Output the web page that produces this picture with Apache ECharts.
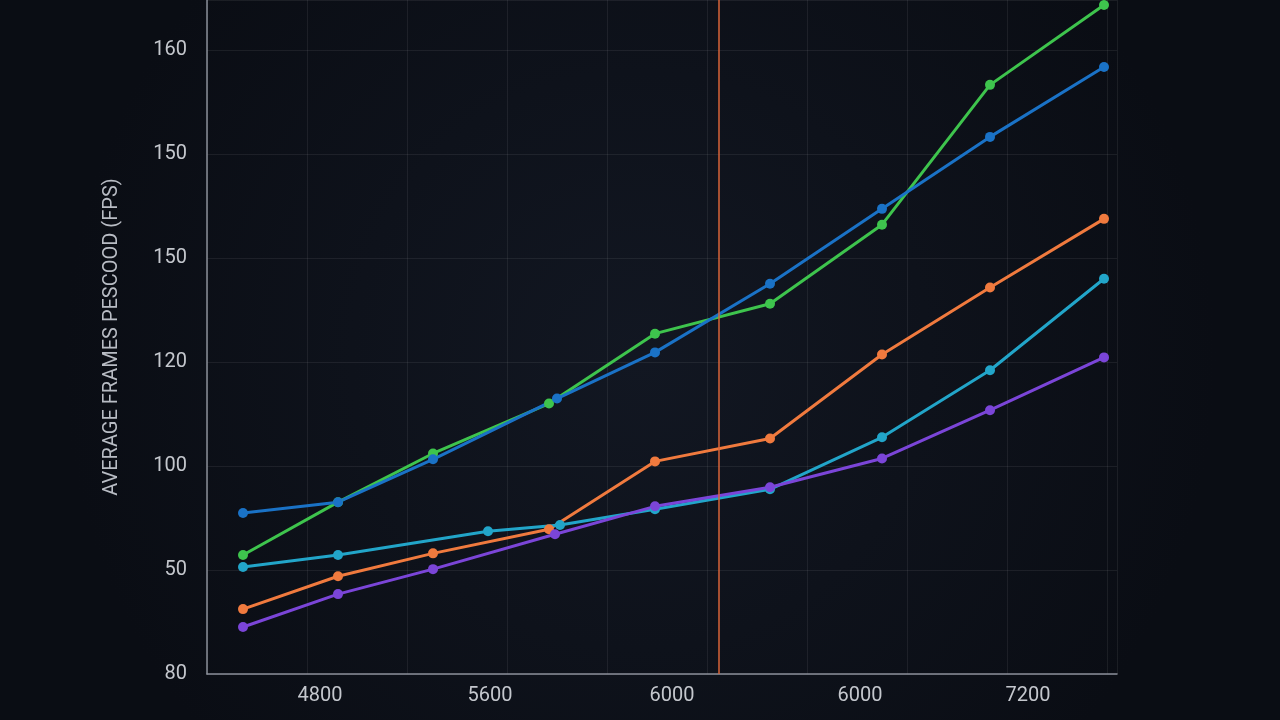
<!DOCTYPE html>
<html>
<head>
<meta charset="utf-8">
<script src="https://cdn.jsdelivr.net/npm/echarts@6/dist/echarts.min.js"></script>
<style>
  html, body { margin: 0; padding: 0; background: #0d111a; }
  #chart { width: 1280px; height: 720px; }
</style>
</head>
<body>
<div id="chart"></div>
<script>
// y tick labels, bottom to top (as printed on the chart)
const yTickLabels = ["80", "50", "100", "120", "150", "150", "160"];
// x tick labels and their positions on the x scale
const xTickLabels = ["4800", "5600", "6000", "6000", "7200"];
const xTickPos = [1.13, 2.83, 4.65, 6.53, 8.21];

const xGreen = [0.36, 1.31, 2.26, 3.42, 4.48, 5.63, 6.75, 7.83, 8.97];
const yGreen = [28.6, 41.3, 53.0, 65.0, 81.8, 89.0, 108.0, 141.6, 160.8];
const xBlue = [0.36, 1.31, 2.26, 3.5, 4.48, 5.63, 6.75, 7.83, 8.97];
const yBlue = [38.7, 41.3, 51.6, 66.2, 77.3, 93.8, 111.8, 129.1, 145.9];
const xOrange = [0.36, 1.31, 2.26, 3.42, 4.48, 5.63, 6.75, 7.83, 8.97];
const yOrange = [15.6, 23.5, 29.0, 34.8, 51.1, 56.6, 76.8, 92.9, 109.4];
const xCyan = [0.36, 1.31, 2.81, 3.53, 4.48, 5.63, 6.75, 7.83, 8.97];
const yCyan = [25.7, 28.6, 34.3, 35.8, 39.6, 44.4, 56.9, 73.0, 95.0];
const xPurple = [0.36, 1.31, 2.26, 3.48, 4.48, 5.63, 6.75, 7.83, 8.97];
const yPurple = [11.3, 19.2, 25.2, 33.6, 40.3, 44.9, 51.8, 63.4, 76.1];
const markerX = 5.12;

const zip = (xs, ys) => xs.map((x, i) => [x, ys[i]]);

const chart = echarts.init(document.getElementById("chart"));

const mkSeries = (name, xs, ys, color) => ({
  name: name,
  type: "line",
  data: zip(xs, ys),
  symbol: "circle",
  symbolSize: 10,
  lineStyle: { width: 3, color: color },
  itemStyle: { color: color },
  z: 3,
});

const series = [
  mkSeries("green", xGreen, yGreen, "#3ec44d"),
  mkSeries("blue", xBlue, yBlue, "#1a72c6"),
  mkSeries("orange", xOrange, yOrange, "#f07a3e"),
  mkSeries("cyan", xCyan, yCyan, "#22a5c9"),
  mkSeries("purple", xPurple, yPurple, "#7b45d8"),
];
series[0].markLine = {
  silent: true,
  symbol: "none",
  label: { show: false },
  lineStyle: { color: "#d8643a", width: 1.5, type: "solid" },
  data: [{ xAxis: markerX }],
};

chart.setOption({
  backgroundColor: {
    type: "radial", x: 0.5, y: 0.5, r: 0.8,
    colorStops: [{ offset: 0, color: "#121722" }, { offset: 1, color: "#0a0d14" }],
  },
  grid: { left: 207, right: 163, top: 0, bottom: 46 },
  xAxis: {
    type: "value",
    min: 0,
    max: 9.1,
    interval: 1,
    axisLine: { show: true, lineStyle: { color: "#8a8f99", width: 1.5 } },
    axisTick: { show: false },
    axisLabel: { show: false },
    splitLine: { show: true, lineStyle: { color: "rgba(255,255,255,0.07)" } },
  },
  yAxis: {
    type: "value",
    min: 0,
    max: 162,
    interval: 25,
    name: "AVERAGE FRAMES PESCOOD (FPS)",
    nameLocation: "middle",
    nameGap: 85,
    nameTextStyle: { color: "#b8bcc4", fontSize: 20, fontFamily: "Roboto" },
    axisLine: { show: true, lineStyle: { color: "#8a8f99", width: 1.5 } },
    axisTick: { show: false },
    axisLabel: {
      color: "#c4c7cd",
      fontSize: 20,
      fontFamily: "Roboto",
      margin: 20,
      showMaxLabel: false,
      formatter: (v) => {
        const i = Math.round(v / 25);
        return i * 25 === v ? (yTickLabels[i] || "") : "";
      },
    },
    splitLine: { show: true, lineStyle: { color: "rgba(255,255,255,0.07)" } },
  },
  graphic: xTickLabels.map((t, i) => ({
    type: "text",
    x: 207 + xTickPos[i] * 100,
    y: 696,
    style: {
      text: t,
      fill: "#c4c7cd",
      fontSize: 20,
      fontFamily: "Roboto",
      align: "center",
      verticalAlign: "middle",
    },
  })),
  series: series,
});
</script>
</body>
</html>
